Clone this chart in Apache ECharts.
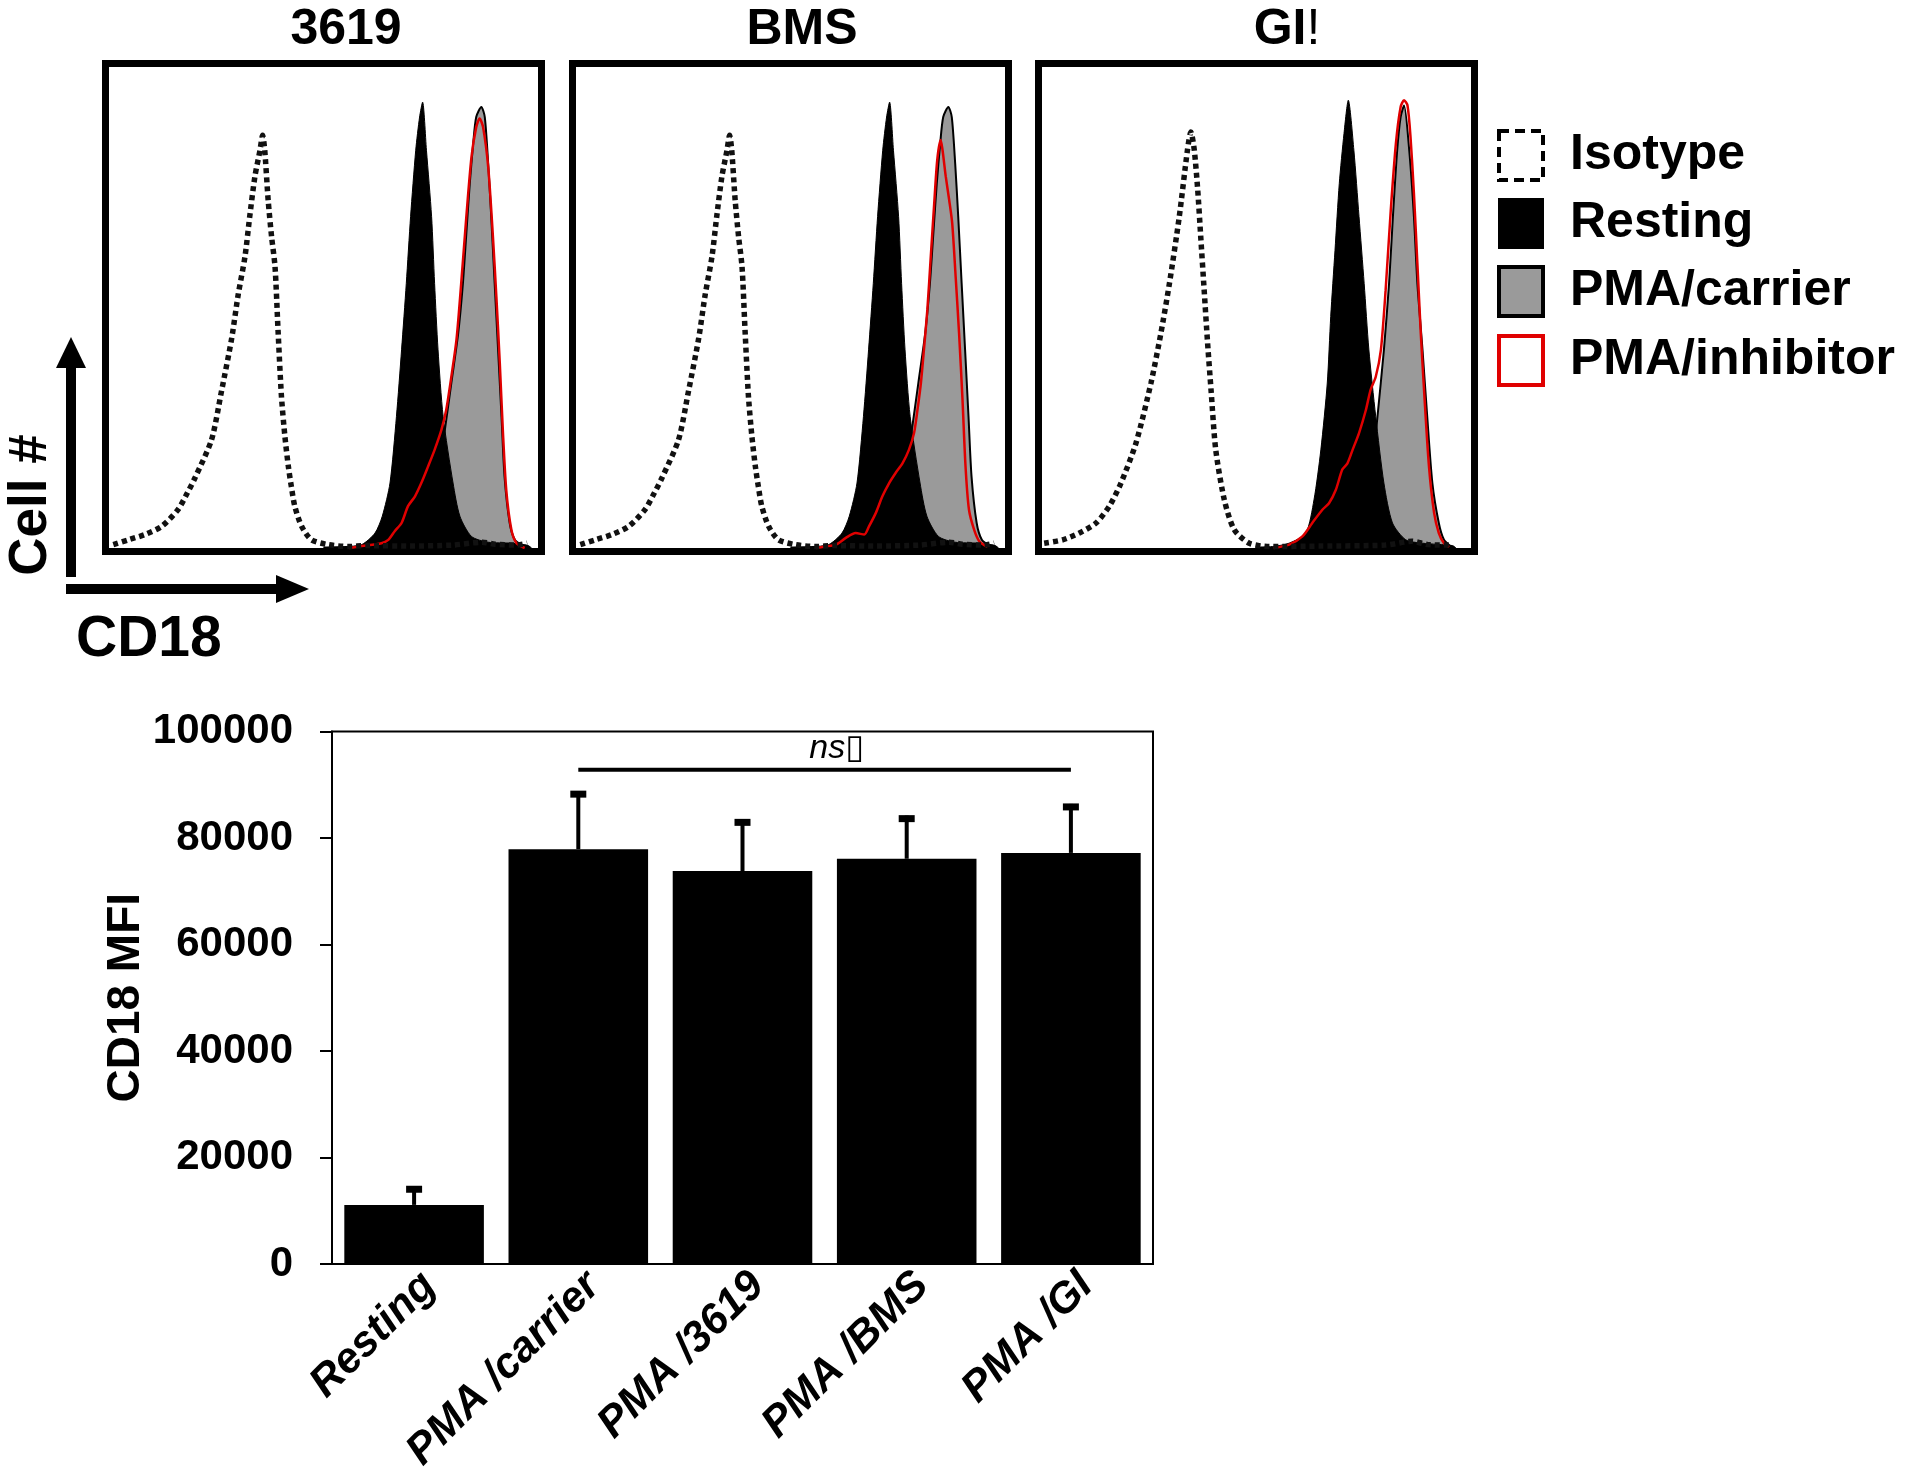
<!DOCTYPE html>
<html><head><meta charset="utf-8">
<script src="https://cdn.jsdelivr.net/npm/echarts@6/dist/echarts.min.js"></script>
<style>html,body{margin:0;padding:0;background:#fff}#c{width:1920px;height:1469px}</style>
</head><body><div id="c"></div>
<script>
// ---------- Histogram data (x: % of panel width on CD18 log scale, y: % of panel height) ----------
const panelTitles = ['3619', 'BMS', 'GI!'];
const seriesNames = ['Isotype', 'Resting', 'PMA/carrier', 'PMA/inhibitor'];

// controls as drawn in the 3619 and BMS panels
const isotypeA = [[1.0,0.7],[4.5,1.7],[8.4,2.8],[12.3,4.5],[16.1,8.0],[18.0,11.0],[20.0,14.5],[23.9,22.5],[26.2,32.5],[28.6,43.6],[30.1,52.6],[31.7,60.6],[32.8,68.9],[34.0,77.2],[35.2,82.7],[35.8,85.8],[36.3,82.7],[37.1,72.3],[37.9,64.7],[38.7,58.5],[39.4,45.3],[40.2,31.5],[41.0,23.2],[41.8,17.0],[42.5,12.8],[43.3,8.7],[44.9,4.5],[47.2,1.7],[51.1,0.7],[55.7,0.3],[60.0,0.5],[70.0,0.4],[80.0,0.6],[87.0,1.2],[90.0,0.8],[95.0,0.6],[97.5,1.0]];
const restingA = [[50.0,0.2],[55.0,0.3],[58.9,0.7],[62.0,3.1],[63.7,6.6],[65.5,13.5],[67.0,27.3],[68.2,41.2],[69.3,55.0],[70.3,68.9],[71.5,82.7],[72.4,89.6],[73.1,92.7],[74.0,82.7],[75.2,68.9],[75.9,55.0],[76.7,41.2],[77.9,27.3],[80.2,13.5],[81.8,6.6],[84.5,2.4],[88.4,1.2],[93.8,1.0],[97.7,0.5],[98.5,0.0]];
const carrierA = [[60.0,0.2],[66.6,0.5],[70.5,1.7],[74.4,6.6],[76.7,14.9],[78.3,24.6],[79.8,34.3],[81.4,44.6],[82.5,55.0],[83.3,65.4],[84.1,75.8],[84.9,84.1],[85.6,89.6],[86.8,91.7],[87.6,89.6],[88.4,79.8],[89.1,68.9],[89.9,55.0],[90.7,41.2],[91.5,27.3],[92.2,14.9],[93.4,5.2],[94.6,1.7],[96.1,0.7],[97.3,0.5],[98.0,0.0]];
// controls as drawn in the GI panel
const isotypeB = [[0.5,1.0],[4.8,1.7],[8.7,3.1],[12.6,5.2],[15.7,8.7],[18.4,13.5],[21.9,21.8],[25.4,34.3],[27.7,44.6],[29.7,55.0],[32.0,68.9],[33.9,82.7],[34.7,86.5],[35.5,82.7],[36.3,74.4],[37.0,64.7],[37.8,53.6],[38.6,42.6],[39.4,32.9],[40.5,20.4],[42.5,10.0],[44.8,3.8],[48.3,1.0],[53.0,0.3],[65.0,0.4],[80.0,0.6],[86.3,1.4],[90.0,0.7],[95.7,0.6]];
const restingB = [[50.0,0.2],[53.7,0.3],[57.6,1.0],[61.5,3.1],[63.4,10.0],[65.0,20.4],[66.5,34.3],[67.3,48.1],[68.3,61.9],[69.3,75.8],[70.4,86.2],[71.4,93.1],[72.7,82.7],[73.9,68.9],[75.1,55.0],[76.2,41.2],[77.8,27.3],[79.7,13.5],[81.7,5.2],[84.8,1.7],[88.7,1.0],[95.7,0.5],[96.5,0.0]];
const carrierB = [[60.0,0.2],[65.4,0.3],[70.8,1.7],[74.7,6.6],[76.2,13.5],[77.4,20.4],[78.2,27.3],[79.7,41.2],[80.9,55.0],[81.8,68.9],[82.8,82.7],[83.6,89.6],[84.4,92.0],[85.6,82.7],[86.7,68.9],[87.5,55.0],[88.7,41.2],[89.8,27.3],[91.0,13.5],[92.5,5.2],[93.7,1.7],[95.3,0.3],[96.0,0.0]];
// PMA / inhibitor curves
const inh3619 = [[56.0,0.0],[58.9,0.4],[63.5,1.0],[65.1,1.7],[66.6,3.5],[68.2,5.2],[69.7,8.7],[71.3,10.7],[72.8,13.5],[74.4,17.0],[75.9,20.4],[77.5,24.6],[78.6,28.7],[79.8,35.6],[81.0,43.3],[82.1,55.0],[83.3,68.9],[84.5,81.3],[85.6,87.5],[86.4,89.3],[87.2,87.5],[88.4,79.2],[89.5,64.7],[90.3,52.2],[91.1,38.4],[91.8,24.6],[92.6,12.1],[93.8,3.8],[95.0,1.0],[96.9,0.0]];
const inhBMS = [[56.0,0.0],[58.0,0.3],[60.6,0.7],[62.9,2.1],[65.2,3.1],[67.2,2.8],[68.3,4.5],[69.9,7.3],[71.4,10.7],[73.0,13.5],[74.5,15.6],[76.1,17.6],[77.6,20.4],[78.8,23.9],[79.6,28.7],[80.4,34.3],[81.1,41.2],[81.9,49.5],[82.7,60.6],[83.5,71.6],[84.2,80.6],[85.0,84.8],[85.4,83.0],[86.2,77.2],[87.0,72.3],[87.7,67.5],[88.5,56.4],[89.3,44.6],[90.1,30.8],[90.8,17.0],[91.6,8.0],[92.8,3.8],[94.0,1.4],[95.9,0.2]];
const inhGI = [[54.0,0.0],[57.6,0.7],[60.7,2.4],[63.0,5.2],[65.4,8.0],[66.9,9.3],[68.5,12.1],[70.0,16.3],[71.2,17.6],[72.4,20.4],[73.9,23.9],[75.5,28.7],[76.6,32.9],[77.8,35.6],[79.0,41.2],[80.1,53.6],[81.3,70.2],[82.5,84.1],[83.6,91.7],[84.4,93.1],[85.2,92.0],[85.9,85.5],[86.7,73.7],[87.5,59.2],[88.3,44.6],[89.1,32.2],[90.2,17.0],[91.4,7.3],[92.5,3.1],[93.7,1.0],[94.9,0.2]];

// ---------- Bar chart data ----------
const categories = ['Resting', 'PMA /carrier', 'PMA /3619', 'PMA /BMS', 'PMA /GI'];
const mfiMean = [11100, 77900, 73800, 76100, 77200];
const mfiErr = [3500, 10900, 9700, 8100, 9200];
const yTicks = [0, 20000, 40000, 60000, 80000, 100000];
const nsFrom = 'PMA /carrier';
const nsTo = 'PMA /GI';
const nsLevel = 92800;
const nsText = 'ns\u25AF';

// ---------- build ----------
const F = '"Liberation Sans", Arial, sans-serif';
const panelData = [
  [isotypeA, restingA, carrierA, inh3619],
  [isotypeA, restingA, carrierA, inhBMS],
  [isotypeB, restingB, carrierB, inhGI]
];
const panelLeft = [102, 569, 1035];
const titleCenter = [346, 802, 1287];
const BW = 7;

const grids = [], xAxes = [], yAxes = [], series = [], titles = [];
panelLeft.forEach((L, p) => {
  grids.push({left: L + BW/2, top: 60 + BW/2, width: 443 - BW, height: 495 - BW,
    show: true, borderColor: '#000', borderWidth: BW, backgroundColor: '#fff',
    containLabel: false, outerBoundsMode: 'none'});
  xAxes.push({type: 'value', gridIndex: p, min: -0.82, max: 100.82, show: false});
  yAxes.push({type: 'value', gridIndex: p, min: -0.73, max: 100.73, show: false});
  const [iso, rest, carr, inh] = panelData[p];
  const common = {type: 'line', xAxisIndex: p, yAxisIndex: p, showSymbol: false, symbol: 'none',
    smooth: 0.25, animation: false, silent: true};
  series.push(Object.assign({}, common, {name: 'PMA/carrier', data: carr, z: 2,
    lineStyle: {color: '#000', width: 2}, areaStyle: {color: '#9a9a9a', opacity: 1}}));
  series.push(Object.assign({}, common, {name: 'Resting', data: rest, z: 3,
    lineStyle: {color: '#000', width: 1}, areaStyle: {color: '#000', opacity: 1}}));
  series.push(Object.assign({}, common, {name: 'PMA/inhibitor', data: inh, z: 4,
    lineStyle: {color: '#e00000', width: 2.5}}));
  series.push(Object.assign({}, common, {name: 'Isotype', data: iso, z: 5,
    lineStyle: {color: '#111', width: 5.5, type: [5, 4], cap: 'butt'}}));
  const t = panelTitles[p];
  titles.push({
    text: t === 'GI!' ? '{a|GI}{b|!}' : t,
    left: titleCenter[p], top: 5, padding: 0, textAlign: 'center',
    textStyle: {fontSize: 50, fontWeight: 'bold', color: '#000', fontFamily: F,
      rich: {a: {fontSize: 50, fontWeight: 'bold', fontFamily: F, color: '#000'},
             b: {fontSize: 50, fontWeight: 'normal', fontFamily: F, color: '#000'}}}
  });
});

// bar chart grid
grids.push({left: 332, top: 731.5, width: 821, height: 532.5, show: true,
  borderColor: '#000', borderWidth: 2, backgroundColor: 'transparent',
  containLabel: false, outerBoundsMode: 'none'});
xAxes.push({type: 'category', gridIndex: 3, data: categories,
  axisLine: {lineStyle: {color: '#000', width: 2}}, axisTick: {show: false},
  axisLabel: {interval: 0, rotate: 45, margin: 0, verticalAlign: 'top', color: '#000', fontSize: 43,
    fontWeight: 'bold', fontStyle: 'italic', fontFamily: F}});
yAxes.push({type: 'value', gridIndex: 3, min: yTicks[0], max: yTicks[yTicks.length - 1],
  interval: yTicks[1] - yTicks[0], splitLine: {show: false},
  axisLine: {show: true, lineStyle: {color: '#000', width: 2}},
  axisTick: {show: true, inside: false, length: 12, lineStyle: {color: '#000', width: 2}},
  axisLabel: {margin: 39, color: '#000', fontSize: 42, fontWeight: 'bold', fontFamily: F,
    formatter: v => String(v)},
  name: 'CD18 MFI', nameLocation: 'middle', nameGap: 176,
  nameTextStyle: {fontSize: 46, fontWeight: 'bold', color: '#000', fontFamily: F}});

series.push({type: 'bar', name: 'CD18 MFI', xAxisIndex: 3, yAxisIndex: 3, data: mfiMean,
  barCategoryGap: '15%', itemStyle: {color: '#000'}, animation: false, silent: true, z: 2});
series.push({type: 'custom', xAxisIndex: 3, yAxisIndex: 3, z: 3, animation: false, silent: true,
  data: mfiMean.map((m, i) => [i, m, mfiErr[i]]),
  renderItem: (params, api) => {
    const i = api.value(0), m = api.value(1), e = api.value(2);
    const p0 = api.coord([i, m]), p1 = api.coord([i, m + e]);
    return {type: 'group', children: [
      {type: 'line', shape: {x1: p0[0], y1: p0[1], x2: p1[0], y2: p1[1]}, style: {stroke: '#000', lineWidth: 4}},
      {type: 'line', shape: {x1: p1[0] - 8, y1: p1[1] + 3, x2: p1[0] + 8, y2: p1[1] + 3}, style: {stroke: '#000', lineWidth: 7}}
    ]};
  }});
series.push({type: 'custom', xAxisIndex: 3, yAxisIndex: 3, z: 3, animation: false, silent: true,
  data: [[categories.indexOf(nsFrom), categories.indexOf(nsTo), nsLevel]],
  renderItem: (params, api) => {
    const a = api.coord([api.value(0), api.value(2)]);
    const b = api.coord([api.value(1), api.value(2)]);
    return {type: 'group', children: [
      {type: 'line', shape: {x1: a[0], y1: a[1], x2: b[0], y2: b[1]}, style: {stroke: '#000', lineWidth: 4}},
      {type: 'text', style: {text: nsText, x: (a[0] + b[0]) / 2 + 12, y: a[1] - 4, align: 'center', verticalAlign: 'bottom',
        font: 'italic 34px "Liberation Sans", "DejaVu Sans", sans-serif', fill: '#000'}}
    ]};
  }});

const option = {
  backgroundColor: '#fff',
  animation: false,
  title: titles,
  grid: grids, xAxis: xAxes, yAxis: yAxes, series: series,
  legend: {
    orient: 'vertical', left: 1492, top: 124, itemWidth: 44, itemHeight: 49, itemGap: 16,
    selectedMode: false,
    textStyle: {fontSize: 50, fontWeight: 'bold', color: '#000', fontFamily: F, lineHeight: 49, padding: [0, 0, 0, 22]},
    data: [
      {name: 'Isotype', icon: 'rect', itemStyle: {color: '#fff', borderColor: '#000', borderWidth: 4, borderType: [10, 6]}},
      {name: 'Resting', icon: 'rect', itemStyle: {color: '#000', borderColor: '#000', borderWidth: 2}},
      {name: 'PMA/carrier', icon: 'rect', itemStyle: {color: '#9a9a9a', borderColor: '#000', borderWidth: 4}},
      {name: 'PMA/inhibitor', icon: 'rect', itemStyle: {color: '#fff', borderColor: '#e00000', borderWidth: 4}}
    ]
  },
  graphic: [
    // y arrow (Cell #)
    {type: 'rect', shape: {x: 66, y: 365, width: 10, height: 212}, style: {fill: '#000'}},
    {type: 'polygon', shape: {points: [[71, 337], [56, 368], [86, 368]]}, style: {fill: '#000'}},
    // x arrow (CD18)
    {type: 'rect', shape: {x: 66, y: 584, width: 213, height: 10}, style: {fill: '#000'}},
    {type: 'polygon', shape: {points: [[309, 589], [276, 575], [276, 603]]}, style: {fill: '#000'}},
    {type: 'text', x: 31, y: 505, rotation: Math.PI / 2,
      style: {text: 'Cell #', align: 'center', verticalAlign: 'middle', font: 'bold 53px ' + F, fill: '#000'}},
    {type: 'text', x: 76, y: 640,
      style: {text: 'CD18', align: 'left', verticalAlign: 'middle', font: 'bold 57px ' + F, fill: '#000'}}
  ]
};
const chart = echarts.init(document.getElementById('c'), null, {renderer: 'canvas'});
chart.setOption(option);
</script>
</body></html>
